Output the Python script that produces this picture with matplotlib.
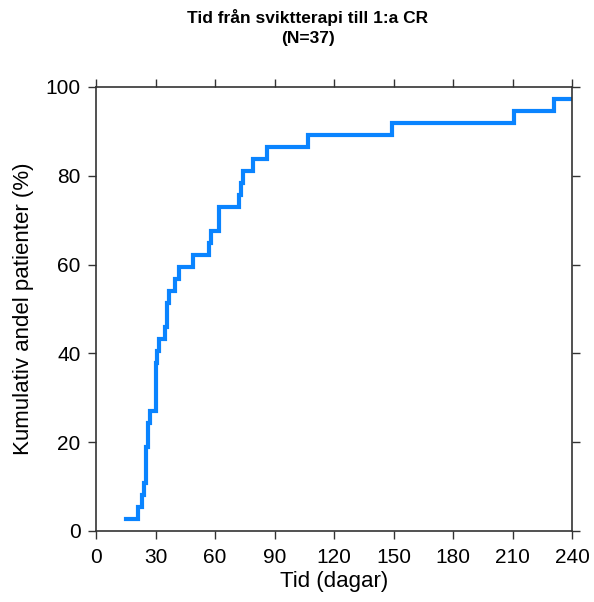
import numpy as np
import matplotlib.pyplot as plt

plt.rcParams['font.family'] = ['Liberation Sans', 'DejaVu Sans']

# Event days and number of patients reaching 1st CR that day (N=37)
N = 37
days = [15, 21, 23, 24, 25, 26, 27, 30, 31, 32, 35, 36, 37, 40, 42, 49,
        57, 58, 62, 72, 73, 74, 79, 86, 107, 149, 211, 231]
events = [1, 1, 1, 1, 3, 2, 1, 4, 1, 1, 1, 2, 1, 1, 1, 1,
          1, 1, 2, 1, 1, 1, 1, 1, 1, 1, 1, 1]
x_end = 240
x_ticks = [0, 30, 60, 90, 120, 150, 180, 210, 240]
y_ticks = [0, 20, 40, 60, 80, 100]

pct = np.cumsum(events) / N * 100
t = np.append(days, x_end)
p = np.append(pct, pct[-1])

fig = plt.figure(figsize=(5.94, 6.02), dpi=100)
ax = fig.add_axes([96/594, 1-531/602, (572-96)/594, (531-87)/602])
ax.step(t, p, where='post', color='#0A84FF', lw=3, solid_joinstyle='miter')

ax.set_xlim(0, 240); ax.set_ylim(0, 100)
ax.set_xticks(x_ticks); ax.set_yticks(y_ticks)
ax.tick_params(direction='out', length=6, width=1, labelsize=15, colors='#333333',
               top=True, right=True, labeltop=False, labelright=False)
ax.tick_params(axis='y', pad=5)
ax.tick_params(axis='x', pad=6)
ax.tick_params(labelcolor='black')
for s in ax.spines.values():
    s.set_linewidth(1.2); s.set_color('#333333')

ax.set_xlabel('Tid (dagar)', fontsize=16, labelpad=3)
ax.set_ylabel('Kumulativ andel patienter (%)', fontsize=16, labelpad=8)
fig.text(308/594, 1-18/602, 'Tid från sviktterapi till 1:a CR', ha='center', va='center',
         fontsize=12.5, fontweight='bold')
fig.text(308/594, 1-39/602, '(N=37)', ha='center', va='center', fontsize=12.5, fontweight='bold')

fig.savefig('out.png', dpi=100)
